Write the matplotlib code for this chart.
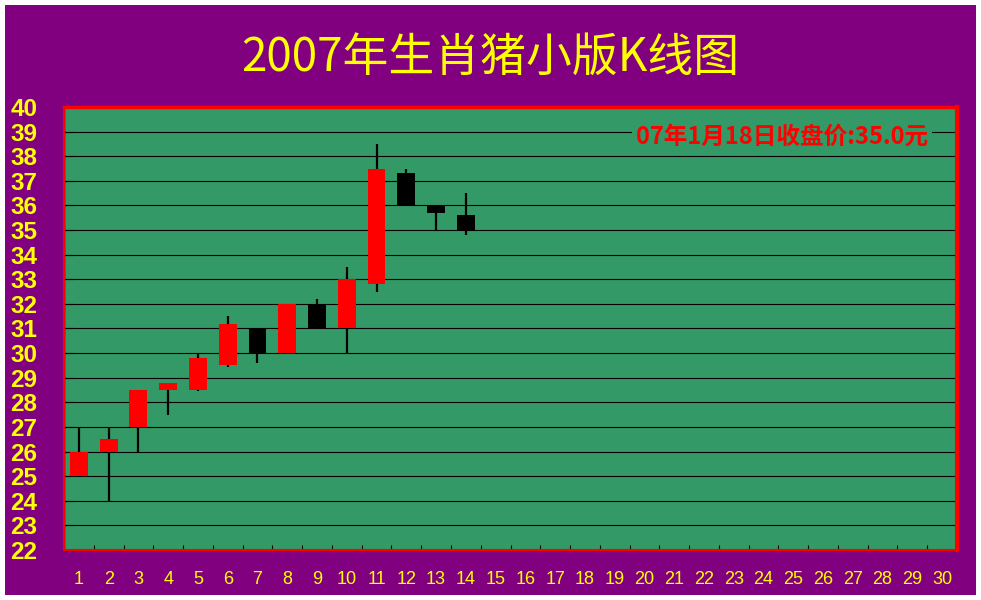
import matplotlib
matplotlib.use("Agg")
import matplotlib.pyplot as plt
from matplotlib.patches import Rectangle
import numpy as np

# ---- data ----
days = list(range(1, 15))
opens = [25.0, 26.0, 27.0, 28.5, 28.5, 29.5, 31.0, 30.0, 32.0, 31.0, 32.8, 37.3, 36.0, 35.6]
highs = [27.0, 27.0, 28.5, 28.8, 30.0, 31.5, 31.0, 32.0, 32.2, 33.5, 38.5, 37.5, 36.0, 36.5]
lows = [25.0, 24.0, 26.0, 27.5, 28.45, 29.45, 29.6, 30.0, 31.0, 30.0, 32.5, 36.0, 35.0, 34.8]
closes = [26.0, 26.5, 28.5, 28.8, 29.8, 31.2, 30.0, 32.0, 31.0, 33.0, 37.5, 36.0, 35.7, 35.0]
x_labels = [str(i) for i in range(1, 31)]
y_ticks = list(range(22, 41))
title = "2007年生肖猪小版K线图"
note = "07年1月18日收盘价:35.0元"

PURPLE = "#800080"
GREEN = "#339966"
YELLOW = "#FFFF00"
RED = "#FF0000"

W, H = 981, 600
fig = plt.figure(figsize=(W / 100, H / 100), dpi=100, facecolor="white")
fig.patches.append(Rectangle((5 / W, 5 / H), 971 / W, 590 / H, transform=fig.transFigure,
                             facecolor=PURPLE, edgecolor="none", zorder=-10))

ax = fig.add_axes([64 / W, 50 / H, (957 - 64) / W, (550 - 107) / H])
ax.set_facecolor(GREEN)
ax.set_xlim(0.5, 30.5)
ax.set_ylim(22, 40)

# grid
for v in y_ticks[1:-1]:
    ax.axhline(v, color="black", lw=0.8, zorder=1)
ax.axhline(22, color="black", lw=1.0, zorder=1)
ax.axvline(0.5, color="black", lw=1.0, zorder=1)

# candles
o = np.array(opens); c = np.array(closes); h = np.array(highs); l = np.array(lows)
colors = [RED if cc >= oo else "black" for oo, cc in zip(o, c)]
ax.vlines(days, l, h, color="black", lw=1.6, zorder=2)
ax.bar(days, np.abs(c - o), bottom=np.minimum(o, c), width=0.6, color=colors,
       edgecolor="none", zorder=3)

# ticks
ax.set_xticks(range(1, 31))
ax.set_xticklabels(x_labels, color=YELLOW, fontsize=13, family=["Liberation Sans", "DejaVu Sans"])
ax.set_xticks(np.arange(0.5, 31, 1), minor=True)
ax.tick_params(axis="x", which="major", length=0, pad=15)
ax.tick_params(axis="x", which="minor", length=3.5, width=0.8, direction="in", color="black")
ax.set_yticks(y_ticks)
ax.set_yticklabels([str(v) for v in y_ticks], color=YELLOW, fontsize=17.5, fontweight="bold",
                   family=["Liberation Sans", "DejaVu Sans"], va="center_baseline")
ax.tick_params(axis="y", which="major", length=7, width=0.8, direction="in", color="black", pad=19)

for side, lw in (("left", 1.5), ("bottom", 1.5), ("top", 2.5), ("right", 3.0)):
    ax.spines[side].set_color(RED)
    ax.spines[side].set_linewidth(lw)

# annotation
ax.text(24.62, 38.79, note, color=RED, fontsize=17, fontweight="bold",
        family=["Noto Sans CJK SC", "DejaVu Sans"], ha="center", va="center", zorder=5,
        bbox=dict(facecolor=GREEN, edgecolor="none", pad=3))

# title
fig.text(490 / W, 1 - 57 / H, title, color=YELLOW, fontsize=33, fontstyle="italic",
         family=["Noto Sans CJK SC", "DejaVu Sans"], ha="center", va="center")

fig.savefig("out.png", dpi=100, facecolor="white")
